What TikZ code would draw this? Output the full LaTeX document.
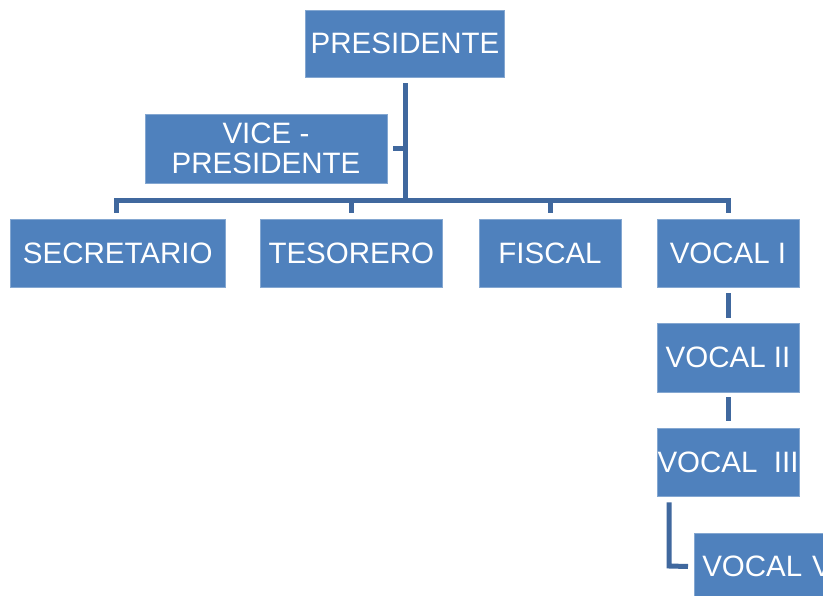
\documentclass[tikz,border=0pt]{standalone}
\usepackage{fontspec}
\setmainfont{Liberation Sans}
\usetikzlibrary{calc}
\definecolor{boxblue}{RGB}{79,129,189}
\definecolor{lineblue}{RGB}{64,104,158}
\begin{document}
\begin{tikzpicture}[x=1pt,y=-1pt,
  orgbox/.style={fill=boxblue, draw=boxblue!70!white, line width=0.6pt, text=white,
    inner sep=0pt, font=\fontsize{29.5}{30}\selectfont, align=center},
  conn/.style={draw=lineblue, line width=5pt, line join=miter}]
\useasboundingbox (0,0) rectangle (823,596);
\clip (0,0) rectangle (823,596);
\fill[white] (0,0) rectangle (823,596);
\node[orgbox, minimum width=199pt, minimum height=67pt] (pres) at (405,43.5) {PRESIDENTE};
\node[orgbox, minimum width=242pt, minimum height=69pt] (vice) at (266,148.5) {VICE -\\PRESIDENTE};
\node[orgbox, minimum width=214.5pt, minimum height=68pt] (sec) at (117.75,253) {SECRETARIO};
\node[orgbox, minimum width=182.6pt, minimum height=68pt] (tes) at (351.3,253) {TESORERO};
\node[orgbox, minimum width=142pt, minimum height=68pt] (fis) at (550,253) {FISCAL};
\node[orgbox, minimum width=142pt, minimum height=68pt] (v1) at (728,253) {VOCAL I};
\node[orgbox, minimum width=142pt, minimum height=69pt] (v2) at (728,357.5) {VOCAL II};
\node[orgbox, minimum width=142pt, minimum height=68pt] (v3) at (728,462) {VOCAL~~III};
\node[orgbox, anchor=west, text width=150pt, align=left, inner xsep=8pt, minimum height=67pt] (v5) at (694,566.5) {VOCAL V};
% connectors
\coordinate (bus) at (405,201);
\draw[conn] ($(pres.south)+(0,6)$) -- (pres.south |- bus);
\draw[conn] ($(vice.east)+(6,0)$) -- (vice.east -| pres.south);
\draw[conn] ($(sec.north)+(-1.25,-6)$) |- (bus) -| ($(v1.north)+(0,-6)$);
\draw[conn] ($(tes.north)+(0,-6)$) -- (tes.north |- bus);
\draw[conn] ($(fis.north)+(0,-6)$) -- (fis.north |- bus);
\draw[conn] ($(v1.south)+(0,6)$) -- ($(v2.north)+(0,-5)$);
\draw[conn] ($(v2.south)+(0,5)$) -- ($(v3.north)+(0,-7)$);
\coordinate (lcorner) at (669,566);
\draw[conn] (v3.south -| lcorner) ++(0,6) -- (lcorner) -- ($(v5.west)+(-6,0)$);
\end{tikzpicture}
\end{document}
